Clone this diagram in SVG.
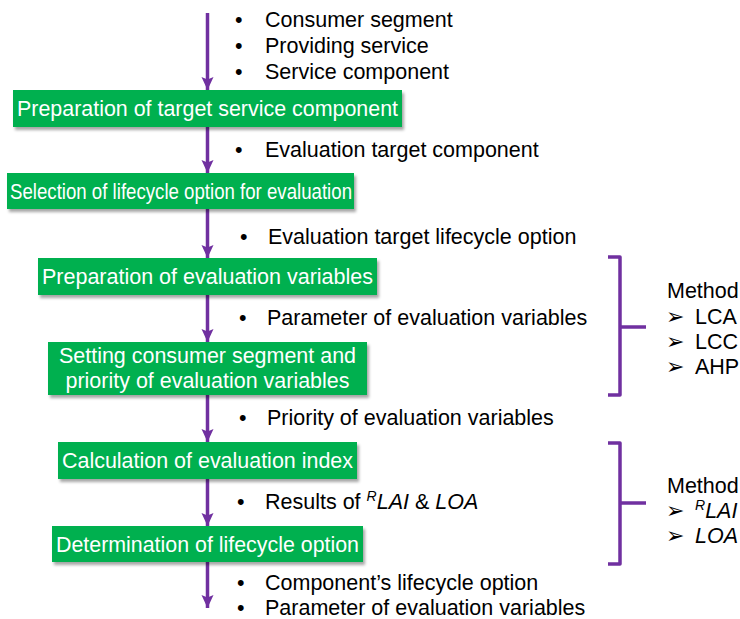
<svg xmlns="http://www.w3.org/2000/svg" width="740" height="619" viewBox="0 0 740 619">
  <style>
    .box { fill: #00B050; filter: url(#shadow); }
    .btxt { fill: #FFFFFF; font-family: "Liberation Sans", Arial, sans-serif; font-size: 21.5px; text-anchor: middle; }
    .txt { fill: #000000; font-family: "Liberation Sans", Arial, sans-serif; font-size: 21.5px; }
    .arr { font-family: "DejaVu Sans", sans-serif; font-size: 22px; }
    .flow { stroke: #7030A0; stroke-width: 3.5; fill: none; marker-end: url(#head); }
    .brace { stroke: #7030A0; stroke-width: 3.5; fill: none; stroke-linejoin: round; }
    .it { font-style: italic; }
  </style>
  <defs>
    <filter id="shadow" x="-5%" y="-20%" width="110%" height="150%">
      <feDropShadow dx="2" dy="3" stdDeviation="1.5" flood-color="#000000" flood-opacity="0.35"/>
    </filter>
    <marker id="head" markerUnits="userSpaceOnUse" markerWidth="14" markerHeight="14" viewBox="0 0 14 14" refX="13" refY="7" orient="auto">
      <path d="M0,1 L13,7 L0,13 L2.5,7 Z" fill="#7030A0"/>
    </marker>
  </defs>

  <!-- connectors -->
  <g id="connectors">
    <line class="flow" x1="207.5" y1="13" x2="207.5" y2="90"/>
    <line class="flow" x1="207.5" y1="127" x2="207.5" y2="173"/>
    <line class="flow" x1="207.5" y1="209" x2="207.5" y2="258"/>
    <line class="flow" x1="207.5" y1="295" x2="207.5" y2="342"/>
    <line class="flow" x1="207.5" y1="395" x2="207.5" y2="442"/>
    <line class="flow" x1="207.5" y1="479" x2="207.5" y2="526"/>
    <line class="flow" x1="207.5" y1="562" x2="207.5" y2="608"/>
    <path class="brace" d="M608,257 H620 V395 H608 M620,327 H646"/>
    <path class="brace" d="M608,443 H620 V564 H608 M620,503 H646"/>
  </g>

  <!-- process steps -->
  <g id="step1">
    <rect class="box" x="13" y="90" width="389" height="37"/>
    <text class="btxt" x="207.5" y="116" textLength="381" lengthAdjust="spacingAndGlyphs">Preparation of target service component</text>
  </g>
  <g id="step2">
    <rect class="box" x="7" y="173" width="347" height="36"/>
    <text class="btxt" x="181" y="199" textLength="342" lengthAdjust="spacingAndGlyphs">Selection of lifecycle option for evaluation</text>
  </g>
  <g id="step3">
    <rect class="box" x="38" y="258" width="339" height="37"/>
    <text class="btxt" x="207.5" y="284" textLength="331" lengthAdjust="spacingAndGlyphs">Preparation of evaluation variables</text>
  </g>
  <g id="step4">
    <rect class="box" x="48" y="342" width="319" height="53"/>
    <text class="btxt" x="207.5" y="363" textLength="297" lengthAdjust="spacingAndGlyphs">Setting consumer segment and</text>
    <text class="btxt" x="207.5" y="388" textLength="284" lengthAdjust="spacingAndGlyphs">priority of evaluation variables</text>
  </g>
  <g id="step5">
    <rect class="box" x="58" y="442" width="299" height="37"/>
    <text class="btxt" x="207.5" y="468" textLength="291" lengthAdjust="spacingAndGlyphs">Calculation of evaluation index</text>
  </g>
  <g id="step6">
    <rect class="box" x="52" y="526" width="311" height="36"/>
    <text class="btxt" x="207.5" y="552" textLength="303" lengthAdjust="spacingAndGlyphs">Determination of lifecycle option</text>
  </g>

  <!-- data passed between steps -->
  <g id="inputs">
    <text class="txt" x="235" y="27">•</text><text class="txt" x="265" y="27">Consumer segment</text>
    <text class="txt" x="235" y="53">•</text><text class="txt" x="265" y="53">Providing service</text>
    <text class="txt" x="235" y="79">•</text><text class="txt" x="265" y="79">Service component</text>
  </g>
  <g id="out1">
    <text class="txt" x="235" y="157">•</text><text class="txt" x="265" y="157">Evaluation target component</text>
  </g>
  <g id="out2">
    <text class="txt" x="240" y="244">•</text><text class="txt" x="268" y="244">Evaluation target lifecycle option</text>
  </g>
  <g id="out3">
    <text class="txt" x="239" y="325">•</text><text class="txt" x="267" y="325">Parameter of evaluation variables</text>
  </g>
  <g id="out4">
    <text class="txt" x="239" y="425">•</text><text class="txt" x="267" y="425">Priority of evaluation variables</text>
  </g>
  <g id="out5">
    <text class="txt" x="237" y="509">•</text><text class="txt" x="265" y="509">Results of <tspan class="it" font-size="14" dy="-8">R</tspan><tspan class="it" dy="8">LAI</tspan> &amp; <tspan class="it">LOA</tspan></text>
  </g>
  <g id="outputs">
    <text class="txt" x="237" y="590">•</text><text class="txt" x="265" y="590">Component’s lifecycle option</text>
    <text class="txt" x="237" y="615">•</text><text class="txt" x="265" y="615">Parameter of evaluation variables</text>
  </g>

  <!-- methods -->
  <g id="methods1">
    <text class="txt" x="667" y="298">Method</text>
    <text class="txt arr" x="666" y="324">➢</text><text class="txt" x="695" y="324">LCA</text>
    <text class="txt arr" x="666" y="349">➢</text><text class="txt" x="695" y="349">LCC</text>
    <text class="txt arr" x="666" y="374">➢</text><text class="txt" x="695" y="374">AHP</text>
  </g>
  <g id="methods2">
    <text class="txt" x="667" y="493">Method</text>
    <text class="txt arr" x="666" y="518">➢</text><text class="txt" x="695" y="518"><tspan class="it" font-size="14" dy="-8">R</tspan><tspan class="it" dy="8">LAI</tspan></text>
    <text class="txt arr" x="666" y="543">➢</text><text class="txt it" x="695" y="543">LOA</text>
  </g>
</svg>
